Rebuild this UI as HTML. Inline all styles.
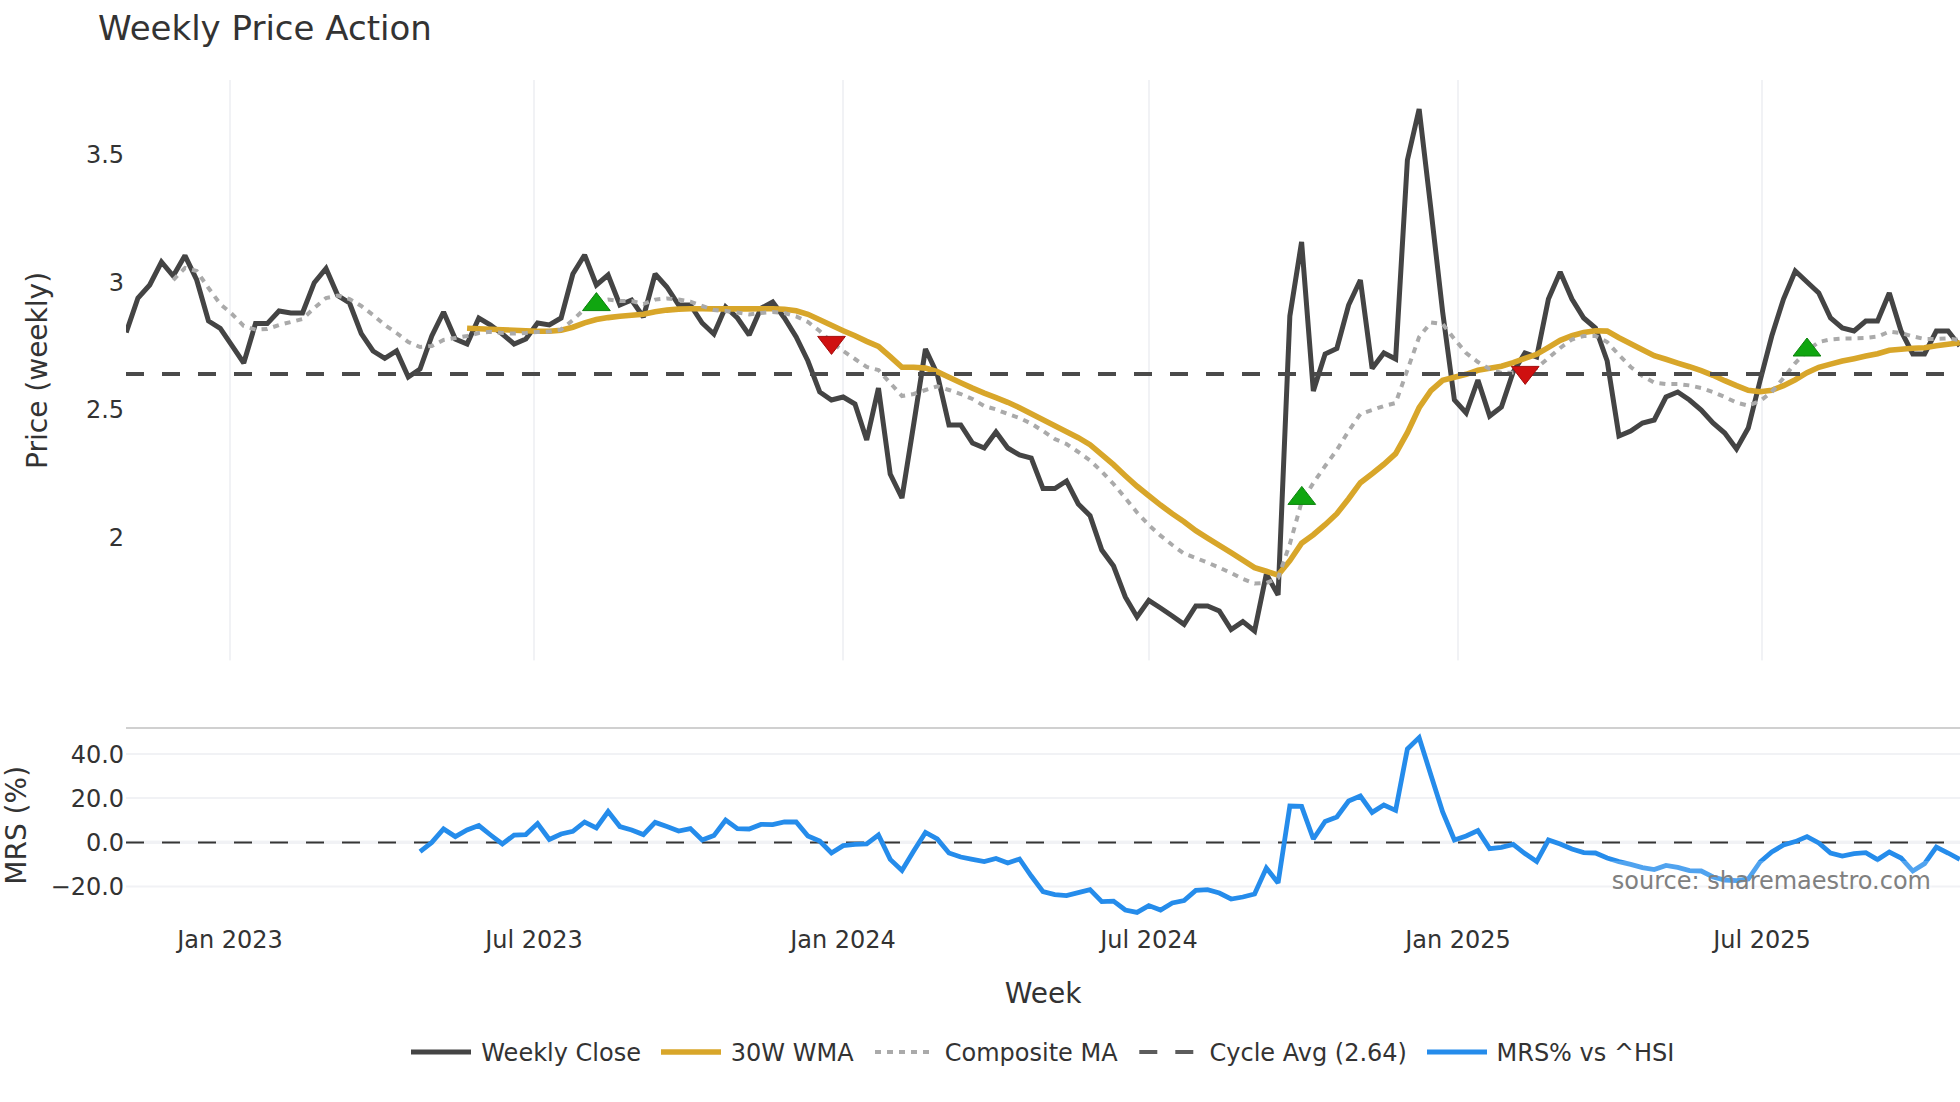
<!DOCTYPE html>
<html><head><meta charset="utf-8"><title>Weekly Price Action</title>
<style>
html,body{margin:0;padding:0;background:#fff;}
body{width:1960px;height:1102px;overflow:hidden;}
svg{display:block;font-family:"DejaVu Sans", "Liberation Sans", sans-serif;}
text{fill:#333;}
</style></head><body>
<svg width="1960" height="1102" viewBox="0 0 1960 1102">
<rect width="1960" height="1102" fill="#fff"/>
<defs><clipPath id="c1"><rect x="126" y="80" width="1834" height="581"/></clipPath>
<clipPath id="c2"><rect x="126" y="729" width="1834" height="190"/></clipPath></defs>

<rect x="229" y="80" width="2" height="580.4" fill="#f1f2f5"/>
<rect x="533" y="80" width="2" height="580.4" fill="#f1f2f5"/>
<rect x="842" y="80" width="2" height="580.4" fill="#f1f2f5"/>
<rect x="1148" y="80" width="2" height="580.4" fill="#f1f2f5"/>
<rect x="1457" y="80" width="2" height="580.4" fill="#f1f2f5"/>
<rect x="1761" y="80" width="2" height="580.4" fill="#f1f2f5"/>
<rect x="126" y="753" width="1834" height="2" fill="#f1f2f5"/>
<rect x="126" y="797" width="1834" height="2" fill="#f1f2f5"/>
<rect x="126" y="885.5" width="1834" height="2" fill="#f1f2f5"/>
<rect x="126" y="840.6" width="1834" height="3.4" fill="#f1f2f5"/>
<rect x="126" y="727" width="1834" height="2" fill="#d0d0d0"/>
<path d="M126,842.5H1960" stroke="#363636" stroke-width="2" stroke-dasharray="18,18" fill="none"/>
<g clip-path="url(#c1)" fill="none" stroke-linejoin="miter" stroke-miterlimit="2">
<path d="M126.20,332.5 L137.95,298.0 L149.71,285.0 L161.46,262.0 L173.22,276.0 L184.97,255.6 L196.72,280.0 L208.48,321.0 L220.23,328.4 L231.99,345.6 L243.74,363.0 L255.49,323.6 L267.25,323.6 L279.00,311.0 L290.76,313.0 L302.51,313.0 L314.26,282.7 L326.02,268.5 L337.77,295.6 L349.53,303.0 L361.28,333.6 L373.03,351.0 L384.79,358.4 L396.54,351.0 L408.30,377.0 L420.05,369.0 L431.80,336.0 L443.56,312.0 L455.31,339.0 L467.07,344.0 L478.82,318.0 L490.57,325.0 L502.33,334.0 L514.08,344.0 L525.84,339.0 L537.59,323.0 L549.34,325.0 L561.10,318.0 L572.85,274.0 L584.61,255.0 L596.36,285.0 L608.11,275.0 L619.87,305.0 L631.62,300.0 L643.38,317.0 L655.13,274.0 L666.88,287.0 L678.64,305.0 L690.39,305.0 L702.15,323.0 L713.90,334.0 L725.65,307.0 L737.41,318.0 L749.16,335.0 L760.92,308.3 L772.67,302.0 L784.42,318.0 L796.18,337.0 L807.93,361.0 L819.69,392.0 L831.44,400.0 L843.19,397.0 L854.95,404.0 L866.70,440.0 L878.46,388.0 L890.21,474.0 L901.96,498.0 L913.72,424.0 L925.47,349.0 L937.23,374.0 L948.98,425.0 L960.73,425.0 L972.49,443.0 L984.24,448.0 L996.00,432.0 L1007.75,448.0 L1019.50,455.0 L1031.26,458.0 L1043.01,488.6 L1054.77,488.6 L1066.52,481.0 L1078.27,504.0 L1090.03,515.6 L1101.78,550.0 L1113.54,566.0 L1125.29,597.0 L1137.04,617.0 L1148.80,600.4 L1160.55,608.0 L1172.31,616.0 L1184.06,624.4 L1195.81,606.0 L1207.57,606.0 L1219.32,611.0 L1231.08,629.6 L1242.83,621.6 L1254.58,631.0 L1266.34,574.0 L1278.09,595.0 L1289.85,316.0 L1301.60,242.0 L1313.35,391.0 L1325.11,354.0 L1336.86,348.4 L1348.62,305.0 L1360.37,280.0 L1372.12,368.4 L1383.88,353.0 L1395.63,359.0 L1407.39,160.0 L1419.14,109.0 L1430.89,209.0 L1442.65,312.0 L1454.40,400.0 L1466.16,413.0 L1477.91,380.0 L1489.66,416.0 L1501.42,407.0 L1513.17,372.0 L1524.93,353.0 L1536.68,357.0 L1548.43,299.0 L1560.19,272.0 L1571.94,299.0 L1583.70,318.0 L1595.45,328.0 L1607.20,361.0 L1618.96,436.0 L1630.71,431.0 L1642.47,423.0 L1654.22,420.0 L1665.97,397.0 L1677.73,392.0 L1689.48,400.0 L1701.24,410.0 L1712.99,423.0 L1724.74,433.0 L1736.50,449.0 L1748.25,428.0 L1760.01,381.0 L1771.76,336.0 L1783.51,299.0 L1795.27,271.0 L1807.02,282.0 L1818.78,293.0 L1830.53,318.0 L1842.28,328.0 L1854.04,331.0 L1865.79,321.0 L1877.55,321.0 L1889.30,293.0 L1901.05,331.0 L1912.81,354.0 L1924.56,354.0 L1936.32,331.0 L1948.07,331.0 L1959.82,346.0" stroke="#444" stroke-width="5"/>
<path d="M467.07,328.2 L478.82,328.8 L490.57,329.2 L502.33,329.8 L514.08,330.2 L525.84,330.8 L537.59,331.2 L549.34,331.2 L561.10,330.2 L572.85,327.2 L584.61,322.8 L596.36,319.6 L608.11,317.6 L619.87,316.2 L631.62,315.2 L643.38,314.3 L655.13,311.7 L666.88,310.1 L678.64,309.1 L690.39,308.7 L702.15,308.7 L713.90,308.9 L725.65,308.9 L737.41,308.9 L749.16,308.9 L760.92,308.7 L772.67,308.7 L784.42,309.3 L796.18,310.7 L807.93,314.3 L819.69,319.7 L831.44,325.3 L843.19,330.7 L854.95,335.8 L866.70,341.4 L878.46,346.4 L890.21,356.7 L901.96,367.3 L913.72,367.3 L925.47,368.1 L937.23,371.7 L948.98,377.3 L960.73,382.7 L972.49,388.1 L984.24,393.1 L996.00,397.7 L1007.75,402.3 L1019.50,407.7 L1031.26,413.7 L1043.01,419.7 L1054.77,425.7 L1066.52,431.7 L1078.27,437.7 L1090.03,444.7 L1101.78,454.7 L1113.54,464.7 L1125.29,475.7 L1137.04,486.3 L1148.80,495.7 L1160.55,505.1 L1172.31,513.7 L1184.06,521.7 L1195.81,530.7 L1207.57,538.1 L1219.32,545.3 L1231.08,552.7 L1242.83,560.1 L1254.58,567.7 L1266.34,571.3 L1278.09,575.1 L1289.85,560.7 L1301.60,543.3 L1313.35,534.7 L1325.11,524.7 L1336.86,513.7 L1348.62,498.7 L1360.37,482.7 L1372.12,473.7 L1383.88,464.3 L1395.63,453.7 L1407.39,432.7 L1419.14,407.7 L1430.89,390.7 L1442.65,380.3 L1454.40,377.3 L1466.16,374.3 L1477.91,370.3 L1489.66,368.3 L1501.42,366.3 L1513.17,362.7 L1524.93,358.3 L1536.68,354.3 L1548.43,347.3 L1560.19,340.3 L1571.94,335.7 L1583.70,332.5 L1595.45,330.7 L1607.20,331.1 L1618.96,337.7 L1630.71,343.7 L1642.47,349.7 L1654.22,355.7 L1665.97,359.3 L1677.73,363.1 L1689.48,366.7 L1701.24,370.7 L1712.99,375.3 L1724.74,380.7 L1736.50,385.7 L1748.25,390.3 L1760.01,391.7 L1771.76,390.3 L1783.51,385.7 L1795.27,379.7 L1807.02,372.7 L1818.78,367.3 L1830.53,364.1 L1842.28,361.1 L1854.04,358.7 L1865.79,356.1 L1877.55,353.7 L1889.30,350.3 L1901.05,349.3 L1912.81,348.3 L1924.56,347.7 L1936.32,345.7 L1948.07,344.3 L1959.82,342.7" stroke="#d8a62a" stroke-width="5.6"/>
<path d="M173.22,280.0 L184.97,268.0 L196.72,271.0 L208.48,288.0 L220.23,304.0 L231.99,314.0 L243.74,326.0 L255.49,329.6 L267.25,329.0 L279.00,325.0 L290.76,322.0 L302.51,319.0 L314.26,308.0 L326.02,298.0 L337.77,295.6 L349.53,299.0 L361.28,306.0 L373.03,315.0 L384.79,325.0 L396.54,333.0 L408.30,342.0 L420.05,347.0 L431.80,346.0 L443.56,340.0 L455.31,338.0 L467.07,336.0 L478.82,333.0 L490.57,331.8 L502.33,333.0 L514.08,333.6 L525.84,333.0 L537.59,332.0 L549.34,331.6 L561.10,329.6 L572.85,320.0 L584.61,309.0 L596.36,302.0 L608.11,299.6 L619.87,301.0 L631.62,301.0 L643.38,304.0 L655.13,299.6 L666.88,298.4 L678.64,299.6 L690.39,301.6 L702.15,306.0 L713.90,310.0 L725.65,311.0 L737.41,312.6 L749.16,314.4 L760.92,313.0 L772.67,312.0 L784.42,313.0 L796.18,316.4 L807.93,322.0 L819.69,331.0 L831.44,342.0 L843.19,351.0 L854.95,359.0 L866.70,367.0 L878.46,370.0 L890.21,383.0 L901.96,396.0 L913.72,394.0 L925.47,390.0 L937.23,386.4 L948.98,390.0 L960.73,394.0 L972.49,399.0 L984.24,406.0 L996.00,409.4 L1007.75,414.0 L1019.50,418.0 L1031.26,423.6 L1043.01,431.0 L1054.77,439.0 L1066.52,444.0 L1078.27,452.0 L1090.03,460.5 L1101.78,471.5 L1113.54,484.0 L1125.29,498.0 L1137.04,512.5 L1148.80,525.0 L1160.55,535.6 L1172.31,545.0 L1184.06,553.6 L1195.81,558.0 L1207.57,562.6 L1219.32,567.6 L1231.08,573.0 L1242.83,579.0 L1254.58,583.6 L1266.34,583.0 L1278.09,578.0 L1289.85,544.0 L1301.60,502.0 L1313.35,483.0 L1325.11,466.0 L1336.86,450.0 L1348.62,431.0 L1360.37,414.0 L1372.12,410.0 L1383.88,406.0 L1395.63,403.0 L1407.39,370.0 L1419.14,337.0 L1430.89,322.4 L1442.65,324.0 L1454.40,339.0 L1466.16,353.0 L1477.91,362.0 L1489.66,369.0 L1501.42,373.0 L1513.17,372.4 L1524.93,370.0 L1536.68,368.0 L1548.43,358.0 L1560.19,348.0 L1571.94,339.5 L1583.70,336.0 L1595.45,336.0 L1607.20,342.0 L1618.96,355.0 L1630.71,367.0 L1642.47,376.0 L1654.22,382.6 L1665.97,384.0 L1677.73,384.0 L1689.48,385.4 L1701.24,388.0 L1712.99,392.0 L1724.74,397.0 L1736.50,402.6 L1748.25,405.6 L1760.01,401.0 L1771.76,392.0 L1783.51,378.0 L1795.27,363.0 L1807.02,351.0 L1818.78,342.0 L1830.53,339.4 L1842.28,338.6 L1854.04,338.4 L1865.79,338.0 L1877.55,336.6 L1889.30,331.6 L1901.05,333.0 L1912.81,336.4 L1924.56,339.0 L1936.32,339.0 L1948.07,338.4 L1959.82,340.0" stroke="#aaa" stroke-width="4" stroke-dasharray="6,6"/>
</g>
<path d="M126,374H1960" stroke="#4a4a4a" stroke-width="4" stroke-dasharray="18,18" fill="none"/>
<path d="M582.54,310.60H610.26L596.40,292.60Z" fill="#10a610" stroke="#0d820d" stroke-width="1"/>
<path d="M817.64,336.40H845.36L831.50,354.40Z" fill="#cf1010" stroke="#a30d0d" stroke-width="1"/>
<path d="M1287.94,504.40H1315.66L1301.80,486.40Z" fill="#10a610" stroke="#0d820d" stroke-width="1"/>
<path d="M1511.34,366.40H1539.06L1525.20,384.40Z" fill="#cf1010" stroke="#a30d0d" stroke-width="1"/>
<path d="M1793.14,356.00H1820.86L1807.00,338.00Z" fill="#10a610" stroke="#0d820d" stroke-width="1"/>
<g clip-path="url(#c2)" fill="none">
<path d="M420.05,851.6 L431.80,842.4 L443.56,829.0 L455.31,836.6 L467.07,830.0 L478.82,825.6 L490.57,835.0 L502.33,844.0 L514.08,835.0 L525.84,834.6 L537.59,823.6 L549.34,839.4 L561.10,834.0 L572.85,831.4 L584.61,822.0 L596.36,828.0 L608.11,811.6 L619.87,826.6 L631.62,830.0 L643.38,834.6 L655.13,822.4 L666.88,826.6 L678.64,831.0 L690.39,828.6 L702.15,840.0 L713.90,835.6 L725.65,820.0 L737.41,828.6 L749.16,829.0 L760.92,824.4 L772.67,824.6 L784.42,822.0 L796.18,822.0 L807.93,836.0 L819.69,841.0 L831.44,853.0 L843.19,845.6 L854.95,844.4 L866.70,844.0 L878.46,835.0 L890.21,859.4 L901.96,870.4 L913.72,851.0 L925.47,832.4 L937.23,839.0 L948.98,853.0 L960.73,857.0 L972.49,859.4 L984.24,861.6 L996.00,858.4 L1007.75,863.0 L1019.50,859.0 L1031.26,876.0 L1043.01,891.6 L1054.77,894.6 L1066.52,895.6 L1078.27,892.6 L1090.03,889.6 L1101.78,901.6 L1113.54,901.2 L1125.29,910.0 L1137.04,912.4 L1148.80,905.6 L1160.55,910.0 L1172.31,903.0 L1184.06,900.6 L1195.81,890.4 L1207.57,889.6 L1219.32,893.0 L1231.08,899.0 L1242.83,897.0 L1254.58,894.0 L1266.34,868.0 L1278.09,883.0 L1289.85,806.0 L1301.60,806.4 L1313.35,839.0 L1325.11,821.4 L1336.86,817.0 L1348.62,801.0 L1360.37,796.0 L1372.12,812.4 L1383.88,805.0 L1395.63,810.4 L1407.39,749.0 L1419.14,737.6 L1430.89,775.0 L1442.65,812.0 L1454.40,840.0 L1466.16,836.0 L1477.91,830.6 L1489.66,848.6 L1501.42,847.4 L1513.17,844.4 L1524.93,853.6 L1536.68,861.6 L1548.43,840.0 L1560.19,844.0 L1571.94,849.0 L1583.70,852.6 L1595.45,853.0 L1607.20,858.0 L1618.96,861.6 L1630.71,864.4 L1642.47,867.6 L1654.22,869.6 L1665.97,865.4 L1677.73,867.4 L1689.48,870.6 L1701.24,871.0 L1712.99,877.0 L1724.74,880.0 L1736.50,880.6 L1748.25,879.0 L1760.01,862.0 L1771.76,852.0 L1783.51,845.0 L1795.27,841.6 L1807.02,836.6 L1818.78,843.0 L1830.53,853.0 L1842.28,856.0 L1854.04,853.6 L1865.79,852.6 L1877.55,859.6 L1889.30,852.0 L1901.05,858.0 L1912.81,871.0 L1924.56,863.6 L1936.32,847.0 L1948.07,853.0 L1959.82,859.4" stroke="#258ceb" stroke-width="4.8" stroke-linejoin="miter" stroke-miterlimit="2"/>
</g>
<text x="98" y="40" font-size="34">Weekly Price Action</text>
<text x="124.1" y="162.8" font-size="24" text-anchor="end">3.5</text>
<text x="124.1" y="290.8" font-size="24" text-anchor="end">3</text>
<text x="124.1" y="417.8" font-size="24" text-anchor="end">2.5</text>
<text x="124.1" y="545.8" font-size="24" text-anchor="end">2</text>
<text x="124.1" y="762.8" font-size="24" text-anchor="end">40.0</text>
<text x="124.1" y="806.8" font-size="24" text-anchor="end">20.0</text>
<text x="124.1" y="850.8" font-size="24" text-anchor="end">0.0</text>
<text x="124.1" y="895.3" font-size="24" text-anchor="end">−20.0</text>
<text x="230" y="948" font-size="24" text-anchor="middle">Jan 2023</text>
<text x="534" y="948" font-size="24" text-anchor="middle">Jul 2023</text>
<text x="843" y="948" font-size="24" text-anchor="middle">Jan 2024</text>
<text x="1149" y="948" font-size="24" text-anchor="middle">Jul 2024</text>
<text x="1458" y="948" font-size="24" text-anchor="middle">Jan 2025</text>
<text x="1762" y="948" font-size="24" text-anchor="middle">Jul 2025</text>
<text x="1043.2" y="1003" font-size="28" text-anchor="middle">Week</text>
<text transform="translate(46.7,370.4) rotate(-90)" font-size="28" text-anchor="middle">Price (weekly)</text>
<text transform="translate(26,825.3) rotate(-90)" font-size="28" text-anchor="middle">MRS (%)</text>
<rect x="1611.2" y="861" width="320.8" height="35" fill="#fff" fill-opacity="0.2"/>
<text x="1931" y="889.2" font-size="24" text-anchor="end" style="fill:#808080">source: sharemaestro.com</text>
<path d="M411,1052H471" stroke="#444" stroke-width="5"/>
<text x="481.3" y="1060.8" font-size="24">Weekly Close</text>
<path d="M661,1052H721" stroke="#d8a62a" stroke-width="5.6"/>
<text x="730.8" y="1060.8" font-size="24">30W WMA</text>
<path d="M875,1052H935" stroke="#aaa" stroke-width="4" stroke-dasharray="6,6"/>
<text x="944.8" y="1060.8" font-size="24">Composite MA</text>
<path d="M1139.3,1052H1199.3" stroke="#5c5c5c" stroke-width="4" stroke-dasharray="18,18"/>
<text x="1209.5" y="1060.8" font-size="24">Cycle Avg (2.64)</text>
<path d="M1427,1052H1487" stroke="#258ceb" stroke-width="4.8"/>
<text x="1496.5" y="1060.8" font-size="24">MRS% vs ^HSI</text>
</svg></body></html>
